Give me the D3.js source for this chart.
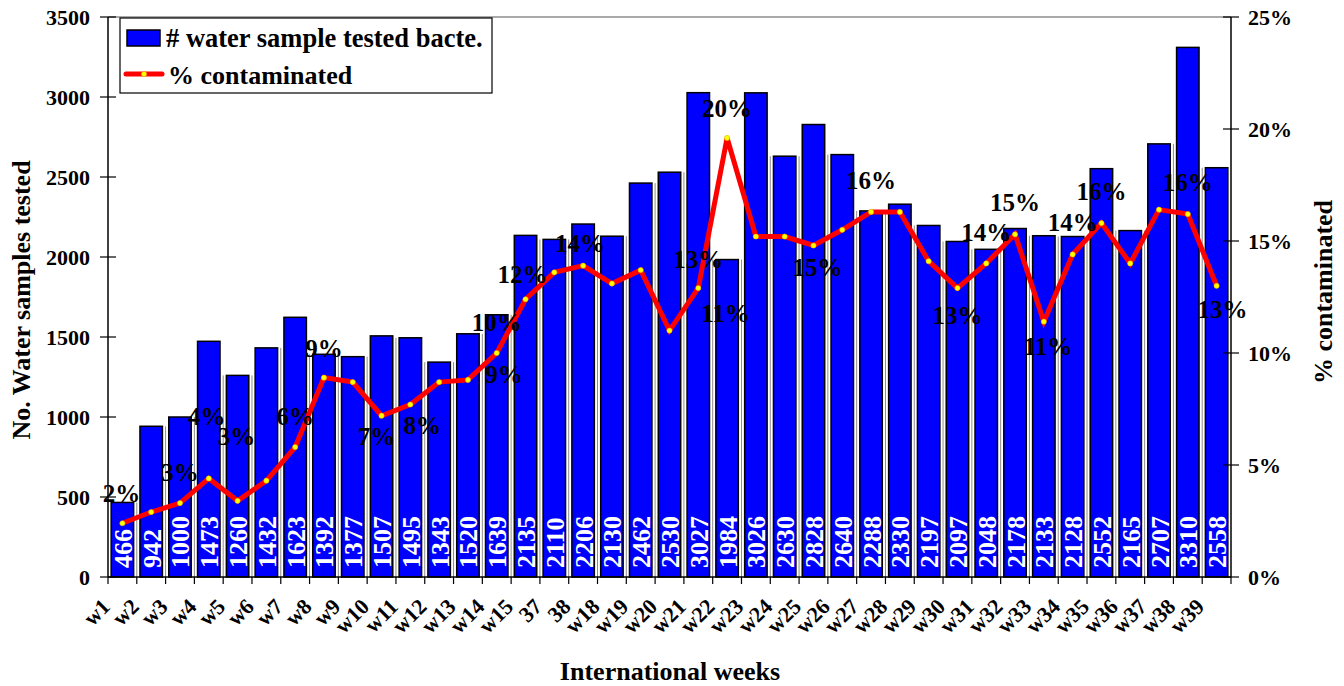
<!DOCTYPE html>
<html>
<head>
<meta charset="utf-8">
<script src="https://cdn.jsdelivr.net/npm/d3@7/dist/d3.min.js"></script>
<style>
  html, body { margin: 0; padding: 0; background: #fff; }
  svg { display: block; }
  text { font-family: "Liberation Serif", "Times New Roman", Times, serif; font-weight: bold; }
</style>
</head>
<body>
<svg id="chart" width="1344" height="686"></svg>
<script>
// ---- data ----
const weeks = ["w1","w2","w3","w4","w5","w6","w7","w8","w9","w10","w11","w12","w13","w14","w15",
  "37","38","w18","w19","w20","w21","w22","w23","w24","w25","w26","w27","w28","w29","w30",
  "w31","w32","w33","w34","w35","w36","w37","w38","w39"];
const samplesTested = [466,942,1000,1473,1260,1432,1623,1392,1377,1507,1495,1343,1520,1639,2135,
  2110,2206,2130,2462,2530,3027,1984,3026,2630,2828,2640,2288,2330,2197,2097,
  2048,2178,2133,2128,2552,2165,2707,3310,2558];
const pctContaminated = [2.4,2.9,3.3,4.4,3.4,4.3,5.8,8.9,8.7,7.2,7.7,8.7,8.8,10.0,12.4,
  13.6,13.9,13.1,13.7,11.0,12.9,19.6,15.2,15.2,14.8,15.5,16.3,16.3,14.1,12.9,
  14.0,15.3,11.4,14.4,15.8,14.0,16.4,16.2,13.0];
const leftTicks = [0,500,1000,1500,2000,2500,3000,3500];
const rightTicks = [0,5,10,15,20,25];
const seriesNames = ["# water sample tested bacte.", "% contaminated"];
// indices of points that carry a percentage label
const labelledPoints = [0,2,3,4,6,7,9,10,12,13,14,16,19,20,21,24,26,29,30,31,32,33,34,37,38];

// label placement (offset from point, px) -- layout only
const labelOffsets = {
  0:[-1,-21], 2:[0,-22], 3:[-2,-53], 4:[-1,-56], 6:[0,-22], 7:[0,-21], 9:[-5,29], 10:[12,29],
  12:[36,3], 13:[0,-22], 14:[-3,-16], 16:[-3,-14], 19:[56,-9], 20:[0,-20], 21:[0,-21],
  24:[4,31], 26:[0,-23], 29:[0,36], 30:[0,-22], 31:[0,-23], 32:[4,33], 33:[0,-23],
  34:[0,-23], 37:[0,-23], 38:[6,32]
};

// ---- layout ----
const svg = d3.select("#chart");
const L = 108, R = 1231, T = 17, B = 577;

const x = d3.scaleBand().domain(weeks).range([L, R]).paddingInner(0.22).paddingOuter(0.11);
const yL = d3.scaleLinear().domain([0, 3500]).range([B, T]);
const yR = d3.scaleLinear().domain([0, 25]).range([B, T]);
const step = x.step();
const cx = w => x(w) + x.bandwidth() / 2;

// top border
svg.append("line").attr("x1", L).attr("x2", R).attr("y1", T).attr("y2", T)
  .attr("stroke", "#8c8c8c").attr("stroke-width", 1.5);

// gray boundary lines between bars
const bounds = d3.range(1, weeks.length);
svg.append("g").selectAll("line").data(bounds).join("line")
  .attr("x1", i => L + i * step).attr("x2", i => L + i * step)
  .attr("y1", B)
  .attr("y2", i => yL(Math.min(samplesTested[i - 1], samplesTested[i])))
  .attr("stroke", "#8c8c8c").attr("stroke-width", 1);

// bars
svg.append("g").selectAll("rect").data(weeks).join("rect")
  .attr("x", d => x(d)).attr("width", x.bandwidth())
  .attr("y", (d, i) => yL(samplesTested[i]))
  .attr("height", (d, i) => B - yL(samplesTested[i]))
  .attr("fill", "#0000ff").attr("stroke", "#000").attr("stroke-width", 1.5);

// bar value labels
svg.append("g").selectAll("text").data(weeks).join("text")
  .attr("transform", d => `translate(${cx(d) + 9.5},${B - 9}) rotate(-90)`)
  .attr("fill", "#fff").attr("font-size", 26)
  .text((d, i) => samplesTested[i]);

// axes
const axisG = svg.append("g");
axisG.append("line").attr("x1", L).attr("x2", L).attr("y1", T).attr("y2", B).attr("stroke", "#000").attr("stroke-width", 1.5);
axisG.append("line").attr("x1", R).attr("x2", R).attr("y1", T).attr("y2", B).attr("stroke", "#000").attr("stroke-width", 1.5);
axisG.append("line").attr("x1", L).attr("x2", R).attr("y1", B).attr("y2", B).attr("stroke", "#000").attr("stroke-width", 1.5);

axisG.append("g").selectAll("line").data(leftTicks).join("line")
  .attr("x1", L - 8).attr("x2", L + 8).attr("y1", d => yL(d)).attr("y2", d => yL(d))
  .attr("stroke", "#000").attr("stroke-width", 1.2);
axisG.append("g").selectAll("text").data(leftTicks).join("text")
  .attr("x", L - 18).attr("y", d => yL(d)).attr("dy", "0.35em")
  .attr("text-anchor", "end").attr("font-size", 22).text(d => d);

axisG.append("g").selectAll("line").data(rightTicks).join("line")
  .attr("x1", R - 8).attr("x2", R + 8).attr("y1", d => yR(d)).attr("y2", d => yR(d))
  .attr("stroke", "#000").attr("stroke-width", 1.2);
axisG.append("g").selectAll("text").data(rightTicks).join("text")
  .attr("x", R + 17).attr("y", d => yR(d)).attr("dy", "0.35em")
  .attr("text-anchor", "start").attr("font-size", 22).text(d => d + "%");

axisG.append("g").selectAll("line").data(d3.range(0, weeks.length + 1)).join("line")
  .attr("x1", i => L + i * step).attr("x2", i => L + i * step)
  .attr("y1", B).attr("y2", B + 7).attr("stroke", "#000").attr("stroke-width", 1.2);

axisG.append("g").selectAll("text").data(weeks).join("text")
  .attr("transform", d => `translate(${cx(d) - 11},${B + 31}) rotate(-45)`)
  .attr("text-anchor", "end").attr("font-size", 22).text(d => d);

// axis titles
svg.append("text").attr("x", 670).attr("y", 680).attr("text-anchor", "middle")
  .attr("font-size", 26).text("International weeks");
svg.append("text").attr("transform", `translate(30,${(T + B) / 2 + 3}) rotate(-90)`)
  .attr("text-anchor", "middle").attr("font-size", 26).text("No. Water samples tested");
svg.append("text").attr("transform", `translate(1332,${(T + B) / 2 - 5}) rotate(-90)`)
  .attr("text-anchor", "middle").attr("font-size", 26).text("% contaminated");

// line
const line = d3.line().x((d, i) => cx(weeks[i])).y(d => yR(d));
svg.append("path").datum(pctContaminated).attr("d", line)
  .attr("fill", "none").attr("stroke", "#ff0000").attr("stroke-width", 5).attr("stroke-linejoin", "miter");
svg.append("g").selectAll("circle").data(pctContaminated).join("circle")
  .attr("cx", (d, i) => cx(weeks[i])).attr("cy", d => yR(d)).attr("r", 2.6)
  .attr("fill", "#ffff00").attr("stroke", "#d4b000").attr("stroke-width", 0.5);

// percentage labels
svg.append("g").selectAll("text").data(labelledPoints).join("text")
  .attr("x", i => cx(weeks[i]) + labelOffsets[i][0])
  .attr("y", i => yR(pctContaminated[i]) + labelOffsets[i][1])
  .attr("text-anchor", "middle").attr("font-size", 25)
  .text(i => Math.round(pctContaminated[i]) + "%");

// legend
const lg = svg.append("g");
lg.append("rect").attr("x", 120).attr("y", 18).attr("width", 372).attr("height", 75)
  .attr("fill", "#fff").attr("stroke", "#000").attr("stroke-width", 1.2);
lg.append("rect").attr("x", 127).attr("y", 30).attr("width", 33).attr("height", 16)
  .attr("fill", "#0000ff").attr("stroke", "#000").attr("stroke-width", 1.5);
lg.append("text").attr("x", 166).attr("y", 47).attr("font-size", 26.5).text(seriesNames[0]);
lg.append("line").attr("x1", 126).attr("x2", 162).attr("y1", 74).attr("y2", 74)
  .attr("stroke", "#ff0000").attr("stroke-width", 5).attr("stroke-linecap", "round");
lg.append("circle").attr("cx", 144).attr("cy", 74).attr("r", 2.6)
  .attr("fill", "#ffff00").attr("stroke", "#d4b000").attr("stroke-width", 0.5);
lg.append("text").attr("x", 168).attr("y", 84).attr("font-size", 26).text(seriesNames[1]);
</script>
</body>
</html>
